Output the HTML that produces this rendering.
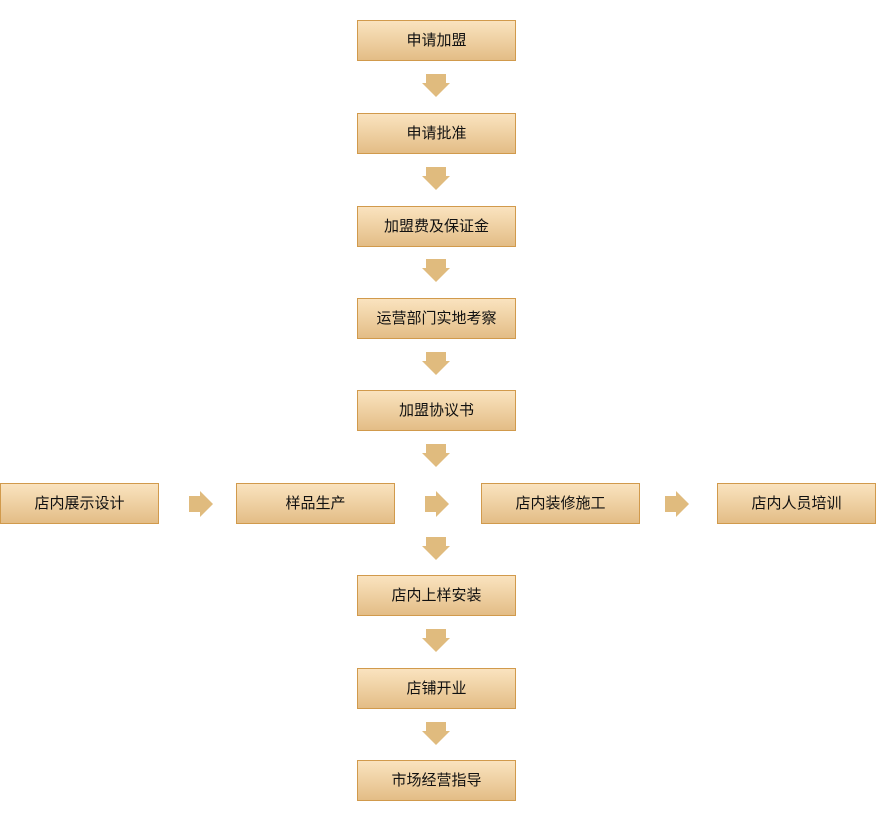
<!DOCTYPE html>
<html><head><meta charset="utf-8"><style>
html,body{margin:0;padding:0;background:#fff;width:876px;height:837px;overflow:hidden}
.b{position:absolute;width:157px;height:39px;border:1px solid #d19a4c;background:linear-gradient(#fae3bf,#e3bd86);font:15px "Liberation Sans","WenQuanYi Zen Hei",sans-serif;color:#111;text-align:center;line-height:40px;box-sizing:content-box}
svg{position:absolute;left:0;top:0}
</style></head><body>
<svg width="876" height="837"><g fill="#e0bb7e">
<polygon points="426,74 446,74 446,83 450,83 436,97 422,83 426,83"/>
<polygon points="426,167 446,167 446,176 450,176 436,190 422,176 426,176"/>
<polygon points="426,259 446,259 446,268 450,268 436,282 422,268 426,268"/>
<polygon points="426,352 446,352 446,361 450,361 436,375 422,361 426,361"/>
<polygon points="426,444 446,444 446,453 450,453 436,467 422,453 426,453"/>
<polygon points="426,537 446,537 446,546 450,546 436,560 422,546 426,546"/>
<polygon points="426,629 446,629 446,638 450,638 436,652 422,638 426,638"/>
<polygon points="426,722 446,722 446,731 450,731 436,745 422,731 426,731"/>
<polygon points="189,496 200,496 200,491 213,504 200,517 200,512 189,512"/>
<polygon points="425,496 436,496 436,491 449,504 436,517 436,512 425,512"/>
<polygon points="665,496 676,496 676,491 689,504 676,517 676,512 665,512"/>
</g></svg>
<div class="b" style="left:357px;top:20px">申请加盟</div>
<div class="b" style="left:357px;top:113px">申请批准</div>
<div class="b" style="left:357px;top:206px">加盟费及保证金</div>
<div class="b" style="left:357px;top:298px">运营部门实地考察</div>
<div class="b" style="left:357px;top:390px">加盟协议书</div>
<div class="b" style="left:0px;top:483px">店内展示设计</div>
<div class="b" style="left:236px;top:483px">样品生产</div>
<div class="b" style="left:481px;top:483px">店内装修施工</div>
<div class="b" style="left:717px;top:483px">店内人员培训</div>
<div class="b" style="left:357px;top:575px">店内上样安装</div>
<div class="b" style="left:357px;top:668px">店铺开业</div>
<div class="b" style="left:357px;top:760px">市场经营指导</div>
</body></html>
